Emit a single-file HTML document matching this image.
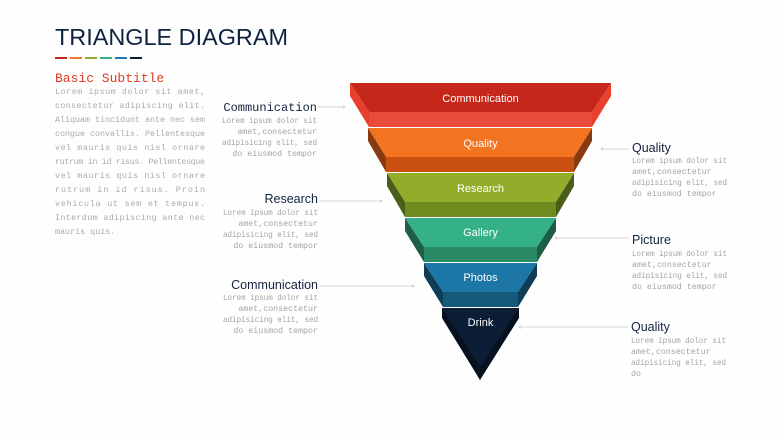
<!DOCTYPE html>
<html><head><meta charset="utf-8"><style>
html,body{margin:0;padding:0;background:#fefefe;}
svg{display:block;}
.t{font-family:"Liberation Sans",sans-serif;fill:#fff;font-size:11px;text-anchor:middle;}
.h{font-family:"Liberation Sans",sans-serif;fill:#13233f;font-size:12.5px;}
.hm{font-family:"Liberation Mono",monospace;fill:#13233f;font-size:12px;}
.b{font-family:"Liberation Mono",monospace;fill:#a4a4a4;font-size:8.3px;}
.p{font-family:"Liberation Mono",monospace;fill:#ababab;font-size:8.4px;}
.ln{stroke:#c8c8c8;stroke-width:0.8;fill:none;}
</style></head><body>
<svg width="780" height="439" viewBox="0 0 780 439" xmlns="http://www.w3.org/2000/svg">
<defs><marker id="a" markerWidth="4" markerHeight="4" refX="3" refY="2" orient="auto"><path d="M0,0 L3,2 L0,4" fill="none" stroke="#bbb" stroke-width="0.7"/></marker></defs>
<rect width="780" height="439" fill="#fefefe"/>
<text x="55" y="45" font-family="Liberation Sans,sans-serif" font-size="23.5" fill="#0e2240" textLength="233" lengthAdjust="spacingAndGlyphs">TRIANGLE DIAGRAM</text>
<rect x="55" y="57" width="12" height="2" fill="#c5281a"/>
<rect x="70" y="57" width="12" height="2" fill="#f47320"/>
<rect x="85" y="57" width="12" height="2" fill="#93ad2a"/>
<rect x="100" y="57" width="12" height="2" fill="#35b18a"/>
<rect x="115" y="57" width="12" height="2" fill="#1c77a6"/>
<rect x="130" y="57" width="12" height="2" fill="#0c1e36"/>
<text x="55" y="82" font-family="Liberation Mono,monospace" font-size="13" fill="#e03a22">Basic Subtitle</text>
<g class="p">
<text x="55" y="94" textLength="150" lengthAdjust="spacing">Lorem ipsum dolor sit amet,</text>
<text x="55" y="108" textLength="150" lengthAdjust="spacing">consectetur adipiscing elit.</text>
<text x="55" y="122" textLength="150" lengthAdjust="spacing">Aliquam tincidunt ante nec sem</text>
<text x="55" y="136" textLength="150" lengthAdjust="spacing">congue convallis. Pellentesque</text>
<text x="55" y="150" textLength="150" lengthAdjust="spacing">vel mauris quis nisl ornare</text>
<text x="55" y="164" textLength="150" lengthAdjust="spacing">rutrum in id risus. Pellentesque</text>
<text x="55" y="178" textLength="150" lengthAdjust="spacing">vel mauris quis nisl ornare</text>
<text x="55" y="192" textLength="150" lengthAdjust="spacing">rutrum in id risus. Proin</text>
<text x="55" y="206" textLength="150" lengthAdjust="spacing">vehicula ut sem et tempus.</text>
<text x="55" y="220" textLength="150" lengthAdjust="spacing">Interdum adipiscing ante nec</text>
<text x="55" y="234">mauris quis.</text>
</g>

<g>
<polygon points="350,83 611,83 592,112 369,112" fill="#c5281a"/>
<rect x="369" y="112" width="223" height="15" fill="#e84b3a"/>
<polygon points="350,83 350,96 369,127 369,112" fill="#e8402c"/>
<polygon points="611,83 611,96 592,127 592,112" fill="#e8402c"/>
<polygon points="368,128 592,128 574,157 386,157" fill="#f47320"/>
<rect x="386" y="157" width="188" height="15" fill="#c9500f"/>
<polygon points="368,128 368,141 386,172 386,157" fill="#8a3a10"/>
<polygon points="592,128 592,141 574,172 574,157" fill="#8a3a10"/>
<polygon points="387,173 574,173 556,202 405,202" fill="#93ad2a"/>
<rect x="405" y="202" width="151" height="15" fill="#6f8a1f"/>
<polygon points="387,173 387,186 405,217 405,202" fill="#4a5e18"/>
<polygon points="574,173 574,186 556,217 556,202" fill="#4a5e18"/>
<polygon points="405,218 556,218 537,247 424,247" fill="#35b18a"/>
<rect x="424" y="247" width="113" height="15" fill="#2a8a66"/>
<polygon points="405,218 405,231 424,262 424,247" fill="#1d5e45"/>
<polygon points="556,218 556,231 537,262 537,247" fill="#1d5e45"/>
<polygon points="424,263 537,263 518,292 443,292" fill="#1c77a6"/>
<rect x="443" y="292" width="75" height="15" fill="#155a7a"/>
<polygon points="424,263 424,276 443,307 443,292" fill="#0e3d55"/>
<polygon points="537,263 537,276 518,307 518,292" fill="#0e3d55"/>
<polygon points="442,308 519,308 480,380" fill="#0c1e36"/>
<polygon points="442,308 442,318 480,380 480,367" fill="#07111f"/>
<polygon points="519,308 519,318 480,380 480,367" fill="#07111f"/>
</g>
<text class="t" x="480.5" y="102">Communication</text>
<text class="t" x="480.5" y="147">Quality</text>
<text class="t" x="480.5" y="192">Research</text>
<text class="t" x="480.5" y="236">Gallery</text>
<text class="t" x="480.5" y="281">Photos</text>
<text class="t" x="480.5" y="326">Drink</text>

<text class="hm" x="317" y="111" text-anchor="end">Communication</text>
<line class="ln" x1="318" y1="107" x2="345" y2="107" marker-end="url(#a)"/>
<g class="b" text-anchor="end">
<text x="317" y="123" textLength="95" lengthAdjust="spacingAndGlyphs">Lorem ipsum dolor sit</text>
<text x="317" y="134">amet,consectetur</text>
<text x="317" y="145" textLength="95" lengthAdjust="spacingAndGlyphs">adipisicing elit, sed</text>
<text x="317" y="156">do eiusmod tempor</text>
</g>
<text class="h" x="318" y="203" text-anchor="end">Research</text>
<line class="ln" x1="319" y1="201" x2="382" y2="201" marker-end="url(#a)"/>
<g class="b" text-anchor="end">
<text x="318" y="215" textLength="95" lengthAdjust="spacingAndGlyphs">Lorem ipsum dolor sit</text>
<text x="318" y="226">amet,consectetur</text>
<text x="318" y="237" textLength="95" lengthAdjust="spacingAndGlyphs">adipisicing elit, sed</text>
<text x="318" y="248">do eiusmod tempor</text>
</g>
<text class="h" x="318" y="289" text-anchor="end">Communication</text>
<line class="ln" x1="319" y1="286" x2="414" y2="286" marker-end="url(#a)"/>
<g class="b" text-anchor="end">
<text x="318" y="300" textLength="95" lengthAdjust="spacingAndGlyphs">Lorem ipsum dolor sit</text>
<text x="318" y="311">amet,consectetur</text>
<text x="318" y="322" textLength="95" lengthAdjust="spacingAndGlyphs">adipisicing elit, sed</text>
<text x="318" y="333">do eiusmod tempor</text>
</g>

<text class="h" x="632" y="152">Quality</text>
<line class="ln" x1="629" y1="149" x2="601" y2="149" marker-end="url(#a)"/>
<g class="b">
<text x="632" y="163" textLength="95" lengthAdjust="spacingAndGlyphs">Lorem ipsum dolor sit</text>
<text x="632" y="174">amet,consectetur</text>
<text x="632" y="185" textLength="95" lengthAdjust="spacingAndGlyphs">adipisicing elit, sed</text>
<text x="632" y="196">do eiusmod tempor</text>
</g>
<text class="h" x="632" y="244">Picture</text>
<line class="ln" x1="629" y1="238" x2="555" y2="238" marker-end="url(#a)"/>
<g class="b">
<text x="632" y="256" textLength="95" lengthAdjust="spacingAndGlyphs">Lorem ipsum dolor sit</text>
<text x="632" y="267">amet,consectetur</text>
<text x="632" y="278" textLength="95" lengthAdjust="spacingAndGlyphs">adipisicing elit, sed</text>
<text x="632" y="289">do eiusmod tempor</text>
</g>
<text class="h" x="631" y="331">Quality</text>
<line class="ln" x1="628" y1="327" x2="519" y2="327" marker-end="url(#a)"/>
<g class="b">
<text x="631" y="343" textLength="95" lengthAdjust="spacingAndGlyphs">Lorem ipsum dolor sit</text>
<text x="631" y="354">amet,consectetur</text>
<text x="631" y="365" textLength="95" lengthAdjust="spacingAndGlyphs">adipisicing elit, sed</text>
<text x="631" y="376">do</text>
</g>
</svg>
</body></html>
